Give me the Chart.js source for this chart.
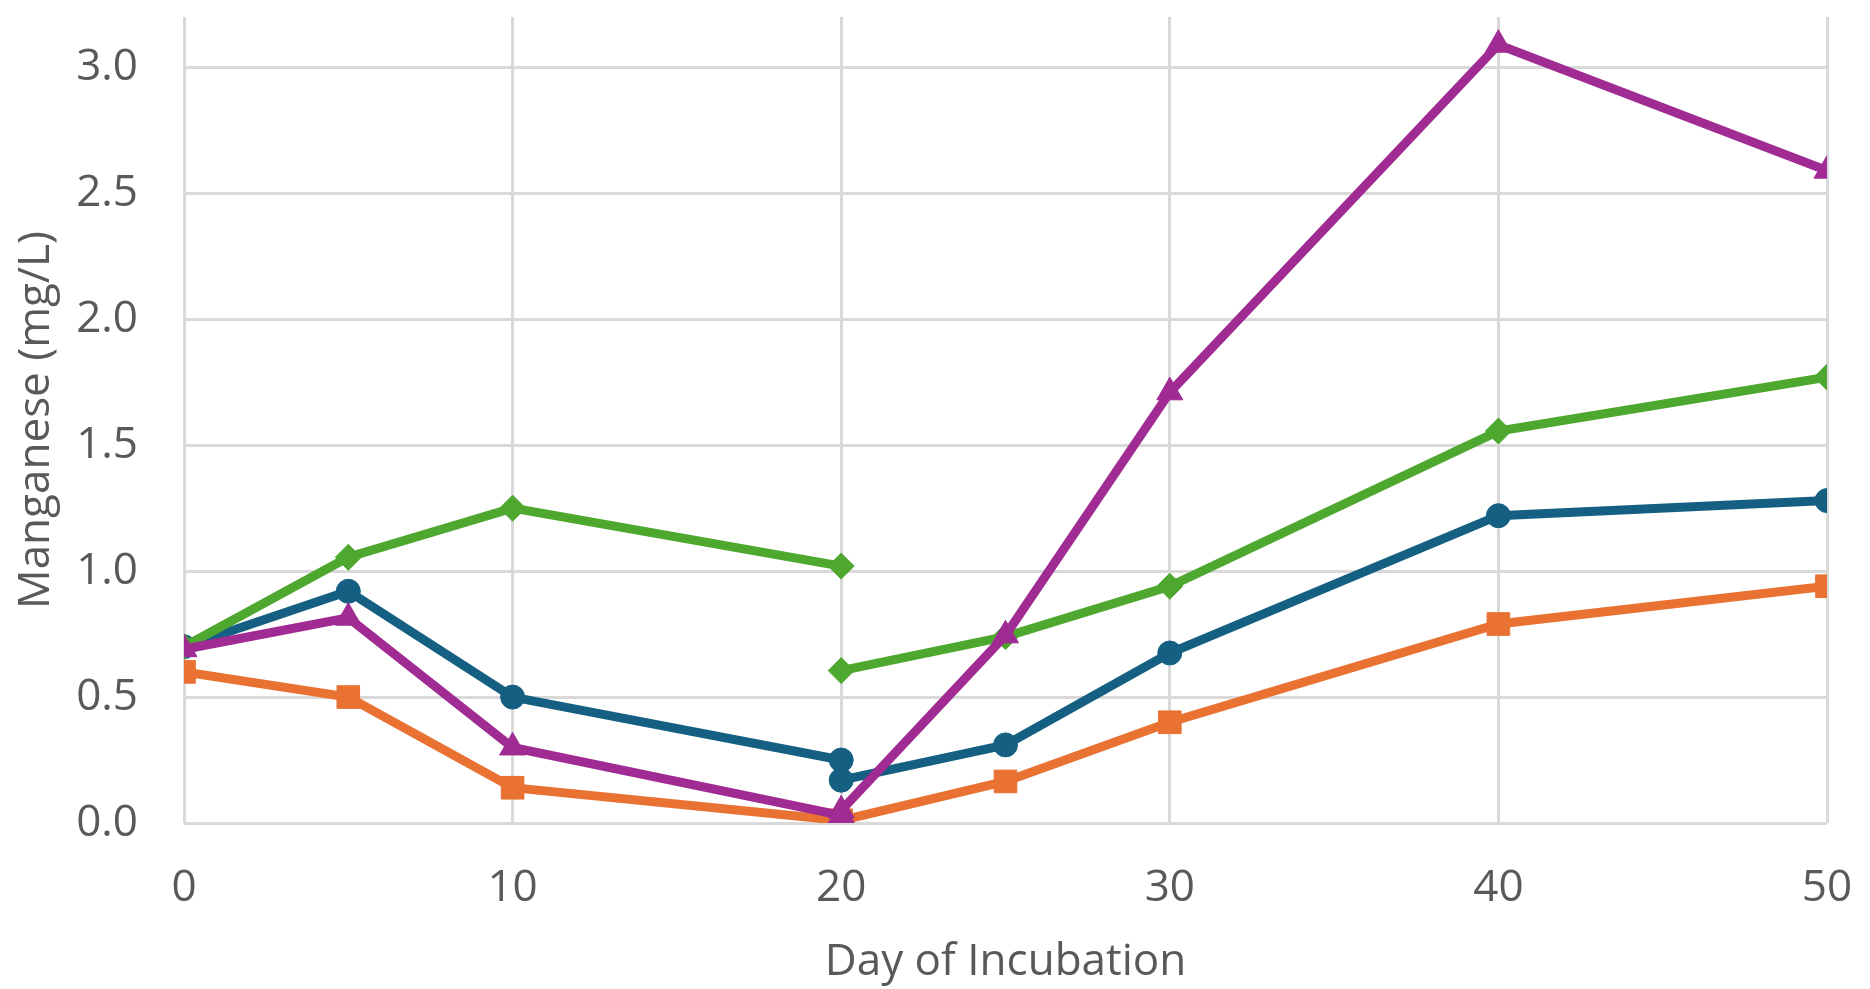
<!DOCTYPE html>
<html>
<head>
<meta charset="utf-8">
<script src="https://cdn.jsdelivr.net/npm/chart.js@4"></script>
<style>
  html, body { margin: 0; padding: 0; background: #fff; }
  #wrap { width: 1870px; height: 989px; }
</style>
</head>
<body>
<div id="wrap"><canvas id="mnChart" width="1870" height="989"></canvas></div>
<script>
// days before and after the break at day 20
const daysA = [0, 5, 10, 20];
const daysB = [20, 25, 30, 40, 50];

const blueA = [0.70, 0.92, 0.50, 0.25];
const blueB = [0.17, 0.31, 0.675, 1.22, 1.28];
const orangeA = [0.60, 0.50, 0.14, 0.01];
const orangeB = [0.01, 0.165, 0.40, 0.79, 0.94];
const greenA = [0.70, 1.055, 1.25, 1.02];
const greenB = [0.605, 0.74, 0.94, 1.556, 1.77];
const purpleA = [0.69, 0.815, 0.30, 0.03];
const purpleB = [0.05, 0.745, 1.71, 3.09, 2.59];

const xTicks = [0, 10, 20, 30, 40, 50];
const yTicks = [0, 0.5, 1.0, 1.5, 2.0, 2.5, 3.0];

const gray = '#595959';
const gridColor = '#d9d9d9';
const font = "'Open Sans', sans-serif";

// marker sizes per shape, roughly matching the original
const radii = { circle: 12, rect: 16, triangle: 15, rectRot: 13 };

// join both runs with a null point so the line breaks at day 20
function series(a, b) {
  const pts = daysA.map((d, i) => ({ x: d, y: a[i] }));
  pts.push({ x: 20, y: null });
  return pts.concat(daysB.map((d, i) => ({ x: d, y: b[i] })));
}

function ds(a, b, color, shape) {
  return {
    data: series(a, b),
    borderColor: color,
    backgroundColor: color,
    borderWidth: 9,
    pointStyle: shape,
    pointRadius: radii[shape],
    pointBorderWidth: 1,
    spanGaps: false,
    tension: 0
  };
}

const ctx = document.getElementById('mnChart').getContext('2d');
new Chart(ctx, {
  type: 'line',
  data: {
    // index 0 is drawn on top
    datasets: [
      ds(purpleA, purpleB, '#A02B93', 'triangle'),
      ds(greenA, greenB, '#4EA72E', 'rectRot'),
      ds(orangeA, orangeB, '#E97132', 'rect'),
      ds(blueA, blueB, '#156082', 'circle')
    ]
  },
  options: {
    responsive: false,
    animation: false,
    layout: { padding: { left: 0, right: 43, top: 12, bottom: 0 } },
    plugins: { legend: { display: false }, tooltip: { enabled: false } },
    scales: {
      x: {
        type: 'linear',
        min: 0,
        max: 50,
        afterBuildTicks: s => { s.ticks = xTicks.map(v => ({ value: v })); },
        afterFit: s => {
          s.height = 989 - 823;
          s.paddingLeft = 0;
          s.paddingRight = 0;
        },
        grid: { color: gridColor, lineWidth: 3, drawTicks: false },
        border: { display: false },
        ticks: { color: gray, font: { family: font, size: 44 }, padding: 39 },
        title: {
          display: true,
          text: 'Day of Incubation',
          color: gray,
          font: { family: font, size: 44 },
          padding: { top: 0, bottom: 0 }
        }
      },
      y: {
        min: 0,
        max: 3.2,
        afterBuildTicks: s => { s.ticks = yTicks.map(v => ({ value: v })); },
        afterFit: s => {
          s.width = 184;
          s.paddingTop = 0;
          s.paddingBottom = 0;
        },
        grid: { color: gridColor, lineWidth: 3, drawTicks: false },
        border: { display: false },
        ticks: {
          color: gray,
          font: { family: font, size: 44 },
          padding: 46,
          callback: v => v.toFixed(1)
        },
        title: {
          display: true,
          text: 'Manganese (mg/L)',
          color: gray,
          font: { family: font, size: 44 },
          padding: { top: 10, bottom: 0 }
        }
      }
    }
  }
});
</script>
</body>
</html>
